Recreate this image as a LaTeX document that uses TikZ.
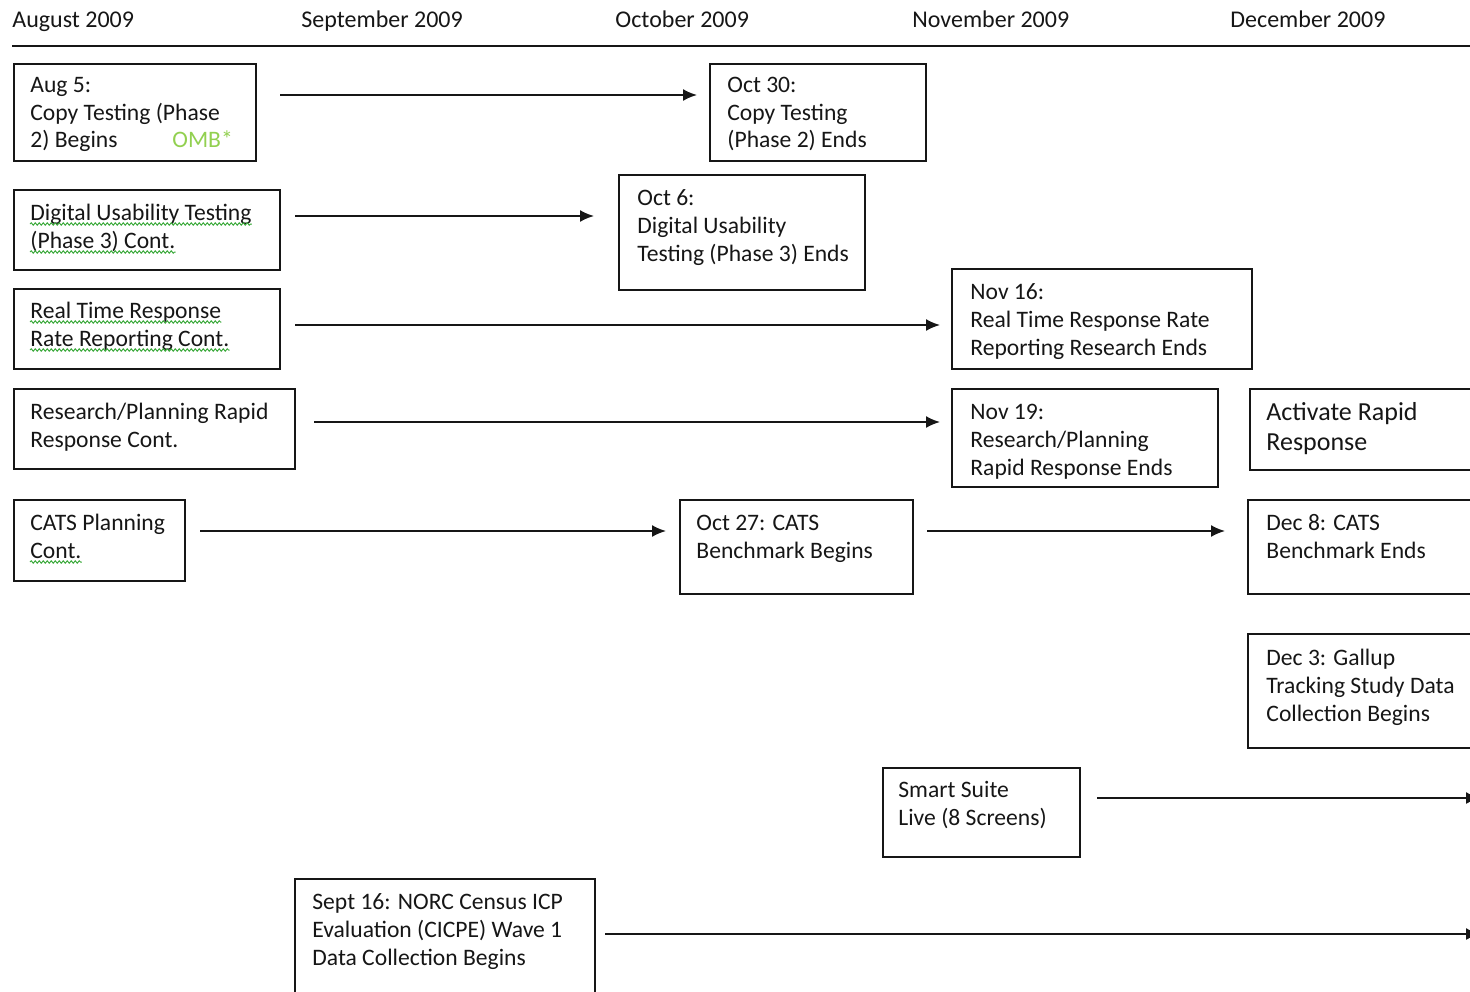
\documentclass[tikz,border=0pt]{standalone}
\usepackage{fontspec}
\setmainfont{Carlito}
\usetikzlibrary{arrows.meta,calc,decorations.pathmorphing}
\definecolor{ink}{HTML}{161616}
\definecolor{omb}{HTML}{92D050}
\definecolor{spell}{HTML}{3DAA3D}
\tikzset{
  box/.style={draw=ink, line width=1pt, inner sep=0pt, anchor=north west},
  txt/.style={anchor=base west, inner sep=0pt, text=ink, font=\fontsize{11.8}{14}\selectfont},
  hdrtxt/.style={txt, font=\fontsize{12}{14}\selectfont},
  bigtxt/.style={txt, font=\fontsize{13}{15}\selectfont},
  arr/.style={draw=ink, line width=0.9pt, -{Latex[length=7pt,width=6pt]}},
  squig/.style={draw=spell, line width=0.5pt, decorate, decoration={snake, segment length=2pt, amplitude=0.6pt}},
  rulebar/.style={draw=ink, line width=1pt},
}
\newcommand\mybox[5]{\node[box, minimum width={(#4-#2)*0.5pt}, minimum height={(#5-#3)*0.5pt}] (#1) at (#2,#3) {};}
\newcommand\squnder[1]{\draw[squig] ($(#1.base west)+(0,4)$) -- ($(#1.base east)+(0,4)$);}
\begin{document}
\begin{tikzpicture}[x=0.5pt,y=-0.5pt]
\useasboundingbox (0,0) rectangle (1470,991);

% header
\node[hdrtxt] (hAug) at (12,27) {August 2009};
\node[hdrtxt] (hSep) at (301,27) {September 2009};
\node[hdrtxt] (hOct) at (615,27) {October 2009};
\node[hdrtxt] (hNov) at (912,27) {November 2009};
\node[hdrtxt] (hDec) at (1230,27) {December 2009};
\coordinate (rl) at (12,46);
\coordinate (rr) at (1470,46);
\draw[rulebar] (rl) -- (rr);

% row 1
\mybox{b1}{13}{63}{255}{160}
\node[txt] (t1a) at (30,92) {Aug 5:};
\node[txt] (t1b) at (30,120) {Copy Testing (Phase};
\node[txt] (t1c) at (30,147) {2) Begins};
\node[txt, text=omb] (t1d) at (172,147) {OMB*};
\mybox{b2}{709}{63}{925}{160}
\node[txt] (t2a) at (727,92) {Oct 30:};
\node[txt] (t2b) at (727,120) {Copy Testing};
\node[txt] (t2c) at (727,147) {(Phase 2) Ends};
\draw[arr] ($(b1.north east)+(23,32)$) -- ($(b2.north west)+(-12,32)$);

% row 2
\mybox{b3}{13}{189}{279}{269}
\node[txt] (t3a) at (30,220) {Digital Usability Testing};
\node[txt] (t3b) at (30,248) {(Phase 3) Cont.};
\squnder{t3a}\squnder{t3b}
\mybox{b4}{618}{174}{864}{289}
\node[txt] (t4a) at (637,205) {Oct 6:};
\node[txt] (t4b) at (637,233) {Digital Usability};
\node[txt] (t4c) at (637,261) {Testing (Phase 3) Ends};
\draw[arr] ($(b3.north east)+(14,27)$) -- ($(b4.north west)+(-24,42)$);

% row 3
\mybox{b5}{13}{288}{279}{368}
\node[txt] (t5a) at (30,318) {Real Time Response};
\node[txt] (t5b) at (30,346) {Rate Reporting Cont.};
\squnder{t5a}\squnder{t5b}
\mybox{b6}{951}{268}{1251}{368}
\node[txt] (t6a) at (970,299) {Nov 16:};
\node[txt] (t6b) at (970,327) {Real Time Response Rate};
\node[txt] (t6c) at (970,355) {Reporting Research Ends};
\draw[arr] ($(b5.north east)+(14,37)$) -- ($(b6.north west)+(-11,57)$);

% row 4
\mybox{b7}{13}{388}{294}{468}
\node[txt] (t7a) at (30,419) {Research/Planning Rapid};
\node[txt] (t7b) at (30,447) {Response Cont.};
\mybox{b8}{951}{388}{1217}{486}
\node[txt] (t8a) at (970,419) {Nov 19:};
\node[txt] (t8b) at (970,447) {Research/Planning};
\node[txt] (t8c) at (970,475) {Rapid Response Ends};
\draw[arr] ($(b7.north east)+(18,34)$) -- ($(b8.north west)+(-11,34)$);
\mybox{b9}{1249}{388}{1490}{469}
\node[bigtxt] (t9a) at (1266,420) {Activate Rapid};
\node[bigtxt] (t9b) at (1266,450) {Response};

% row 5
\mybox{b10}{13}{499}{184}{580}
\node[txt] (t10a) at (30,530) {CATS Planning};
\node[txt] (t10b) at (30,558) {Cont.};
\squnder{t10b}
\mybox{b11}{679}{499}{912}{593}
\node[txt] (t11a) at (696,530) {Oct 27: CATS};
\node[txt] (t11b) at (696,558) {Benchmark Begins};
\draw[arr] ($(b10.north east)+(14,32)$) -- ($(b11.north west)+(-13,32)$);
\mybox{b12}{1247}{499}{1490}{593}
\node[txt] (t12a) at (1266,530) {Dec 8: CATS};
\node[txt] (t12b) at (1266,558) {Benchmark Ends};
\draw[arr] ($(b11.north east)+(13,32)$) -- ($(b12.north west)+(-22,32)$);

% row 6
\mybox{b13}{1247}{633}{1490}{747}
\node[txt] (t13a) at (1266,665) {Dec 3: Gallup};
\node[txt] (t13b) at (1266,693) {Tracking Study Data};
\node[txt] (t13c) at (1266,721) {Collection Begins};

% row 7
\mybox{b14}{882}{767}{1079}{856}
\node[txt] (t14a) at (898,797) {Smart Suite};
\node[txt] (t14b) at (898,825) {Live (8 Screens)};
\coordinate (e14) at (1480,798);
\draw[arr] ($(b14.north east)+(16,31)$) -- (e14);

% row 8
\mybox{b15}{294}{878}{594}{1010}
\node[txt] (t15a) at (312,909) {Sept 16: NORC Census ICP};
\node[txt] (t15b) at (312,937) {Evaluation (CICPE) Wave 1};
\node[txt] (t15c) at (312,965) {Data Collection Begins};
\coordinate (e15) at (1480,934);
\draw[arr] ($(b15.north east)+(9,56)$) -- (e15);
\end{tikzpicture}
\end{document}
